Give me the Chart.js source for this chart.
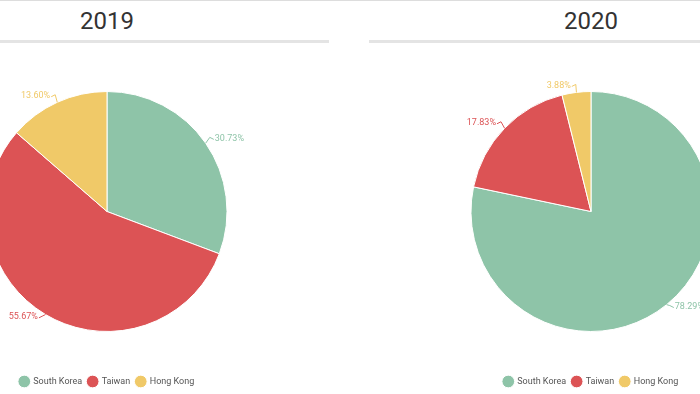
<!DOCTYPE html>
<html>
<head>
<meta charset="utf-8">
<script src="https://cdn.jsdelivr.net/npm/chart.js@4"></script>
<style>
    html, body { margin: 0; padding: 0; background: #fff; }
    body { width: 700px; height: 394px; overflow: hidden; position: relative; border-top: 1px solid #ddd; box-sizing: border-box; font-family: Roboto, sans-serif; }
    .panel { position: absolute; top: 0; width: 444px; height: 405px; }
    .titulo { position: absolute; top: 6px; left: 0; width: 100%; text-align: center; font-size: 24px; color: #333; }
    .linea { position: absolute; top: 39px; left: 0; width: 100%; height: 3px; background: #e4e4e4; }
    .lienzo { position: absolute; top: 50px; left: 0; width: 444px; height: 345px; }
</style>
</head>
<body>
<div class="panel" style="left:-115px">
    <div class="titulo">2019</div>
    <div class="linea"></div>
    <div class="lienzo"><canvas id="pie2019"></canvas></div>
</div>
<div class="panel" style="left:369px">
    <div class="titulo">2020</div>
    <div class="linea"></div>
    <div class="lienzo"><canvas id="pie2020"></canvas></div>
</div>
<script>
const paises = ['South Korea', 'Taiwan', 'Hong Kong'];
const datos2019 = [30.73, 55.67, 13.60];
const datos2020 = [78.29, 17.83, 3.88];
const colores = ['#8ec4a8', '#dc5355', '#f0c968'];

// etiquetas de porcentaje con linea guia
const etiquetas = {
    id: 'etiquetas',
    afterDatasetsDraw(chart) {
        const ctx = chart.ctx;
        const meta = chart.getDatasetMeta(0);
        const data = chart.data.datasets[0].data;
        ctx.save();
        ctx.font = '9px Roboto, sans-serif';
        ctx.textBaseline = 'middle';
        meta.data.forEach((arc, i) => {
            const mid = (arc.startAngle + arc.endAngle) / 2;
            const r = arc.outerRadius;
            const cos = Math.cos(mid), sin = Math.sin(mid);
            const x0 = arc.x + cos * r, y0 = arc.y + sin * r;
            const x1 = arc.x + cos * (r + 5), y1 = arc.y + sin * (r + 5) - 3;
            const dir = cos >= 0 ? 1 : -1;
            const x2 = x1 + dir * 4, y2 = y1 + 2;
            ctx.strokeStyle = colores[i];
            ctx.lineWidth = 1;
            ctx.beginPath();
            ctx.moveTo(x0, y0);
            ctx.lineTo(x1, y1);
            ctx.lineTo(x2, y2);
            ctx.stroke();
            ctx.fillStyle = colores[i];
            ctx.textAlign = dir > 0 ? 'left' : 'right';
            ctx.fillText(data[i].toFixed(2) + '%', x2 + dir * 1, y2 - 1);
        });
        ctx.restore();
    }
};

function pastel(id, valores) {
    new Chart(document.getElementById(id).getContext('2d'), {
        type: 'pie',
        data: {
            labels: paises,
            datasets: [{ data: valores, backgroundColor: colores, borderColor: '#fff', borderWidth: 1, radius: 120 }]
        },
        options: {
            responsive: true,
            maintainAspectRatio: false,
            animation: false,
            layout: { padding: { top: 1 } },
            plugins: {
                legend: {
                    position: 'bottom',
                    labels: { usePointStyle: true, pointStyle: 'circle', boxWidth: 9, boxHeight: 9, padding: 6, color: '#555', font: { family: 'Roboto', size: 9 } }
                },
                tooltip: { enabled: false }
            }
        },
        plugins: [etiquetas]
    });
}

pastel('pie2019', datos2019);
pastel('pie2020', datos2020);
</script>
</body>
</html>
